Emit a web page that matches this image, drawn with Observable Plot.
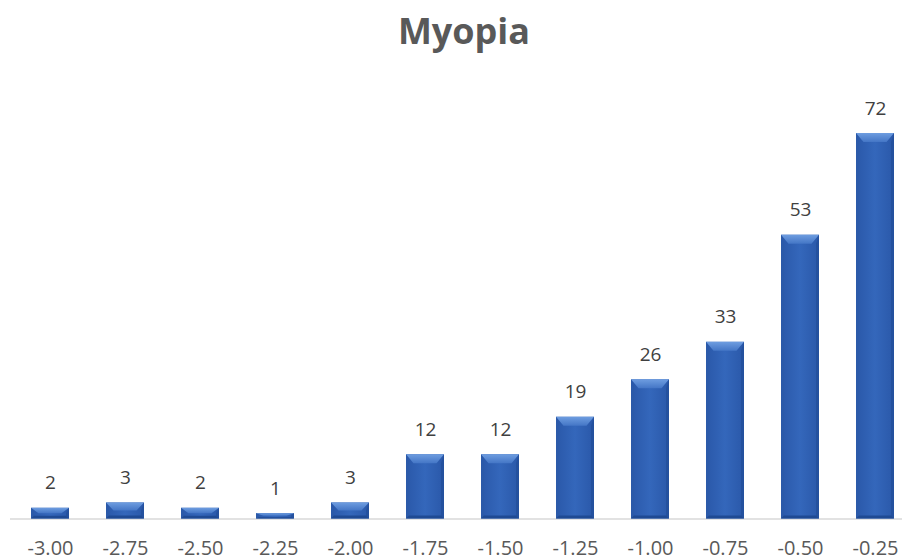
<!DOCTYPE html>
<html>
<head>
<meta charset="utf-8">
<script src="https://cdn.jsdelivr.net/npm/d3@7"></script>
<script src="https://cdn.jsdelivr.net/npm/@observablehq/plot@0.6"></script>
<style>
  html, body { margin: 0; padding: 0; background: #fff; overflow: hidden; width: 902px; height: 560px; }
  #title { height: 70px; box-sizing: border-box; padding-top: 9px; padding-left: 26px; text-align: center;
           font-family: "Open Sans", sans-serif; font-weight: 700; font-size: 36px; color: #595959; line-height: 44px; }
</style>
</head>
<body>
<div id="title">Myopia</div>
<div id="chart"></div>
<script>
const categories = ["-3.00", "-2.75", "-2.50", "-2.25", "-2.00", "-1.75", "-1.50", "-1.25", "-1.00", "-0.75", "-0.50", "-0.25"];
const counts = [2, 3, 2, 1, 3, 12, 12, 19, 26, 33, 53, 72];

const data = categories.map((c, i) => ({ category: c, count: counts[i] }));

const W = 902, H = 490;
const chart = Plot.plot({
  width: W,
  height: H,
  marginLeft: 10,
  marginRight: 0,
  marginTop: 63,
  marginBottom: 41.5,
  style: { fontFamily: "'Open Sans', sans-serif", background: "#fff", overflow: "visible" },
  x: { domain: categories, range: [10.4, 914], paddingInner: 0.49, paddingOuter: 0.245, align: 0.5, label: null },
  y: { domain: [0, 72], axis: null },
  marks: [
    Plot.ruleY([0], { stroke: "#d9d9d9", strokeWidth: 1.5 }),
    Plot.barY(data, { x: "category", y: "count", fill: "url(#barBody)" }),
    Plot.text(data, { x: "category", y: "count", text: d => String(d.count), lineAnchor: "bottom", dy: -19, fontSize: 19, fill: "#404040" }),
    Plot.axisX({ tickSize: 0, tickPadding: 22, fontSize: 20, color: "#595959", label: null })
  ]
});
document.getElementById("chart").appendChild(chart);

// gradient definitions + bevel decoration, computed from the bars Plot drew
const svgSel = d3.select(chart);
const defs = svgSel.insert("defs", ":first-child");
const bodyGrad = defs.append("linearGradient").attr("id", "barBody").attr("x1", 0).attr("x2", 1).attr("y1", 0).attr("y2", 0);
bodyGrad.append("stop").attr("offset", "0").attr("stop-color", "#2a58a9");
bodyGrad.append("stop").attr("offset", "0.5").attr("stop-color", "#3467bb");
bodyGrad.append("stop").attr("offset", "1").attr("stop-color", "#2a58a9");
const topGrad = defs.append("linearGradient").attr("id", "barTop").attr("x1", 0).attr("x2", 0).attr("y1", 0).attr("y2", 1);
topGrad.append("stop").attr("offset", "0").attr("stop-color", "#6e9de0");
topGrad.append("stop").attr("offset", "1").attr("stop-color", "#4476c6");

const barG = svgSel.select('g[aria-label="bar"]');
barG.selectAll("rect").each(function () {
  const r = d3.select(this);
  const x = +r.attr("x"), y = +r.attr("y"), w = +r.attr("width"), h = +r.attr("height");
  const b = Math.min(9, h / 2);
  const s = Math.min(3, w / 6);
  const bb = Math.min(3, h / 4);
  barG.append("polygon").attr("points", `${x},${y} ${x + w},${y} ${x + w - s * 2.5},${y + b} ${x + s * 2.5},${y + b}`).attr("fill", "url(#barTop)");
  barG.append("polygon").attr("points", `${x},${y} ${x + s},${y + b} ${x + s},${y + h - bb} ${x},${y + h}`).attr("fill", "#2b5aa8").attr("opacity", 0.9);
  barG.append("polygon").attr("points", `${x + w},${y} ${x + w - s},${y + b} ${x + w - s},${y + h - bb} ${x + w},${y + h}`).attr("fill", "#24509c").attr("opacity", 0.9);
  barG.append("polygon").attr("points", `${x},${y + h} ${x + s},${y + h - bb} ${x + w - s},${y + h - bb} ${x + w},${y + h}`).attr("fill", "#1f4a93");
});
</script>
</body>
</html>
